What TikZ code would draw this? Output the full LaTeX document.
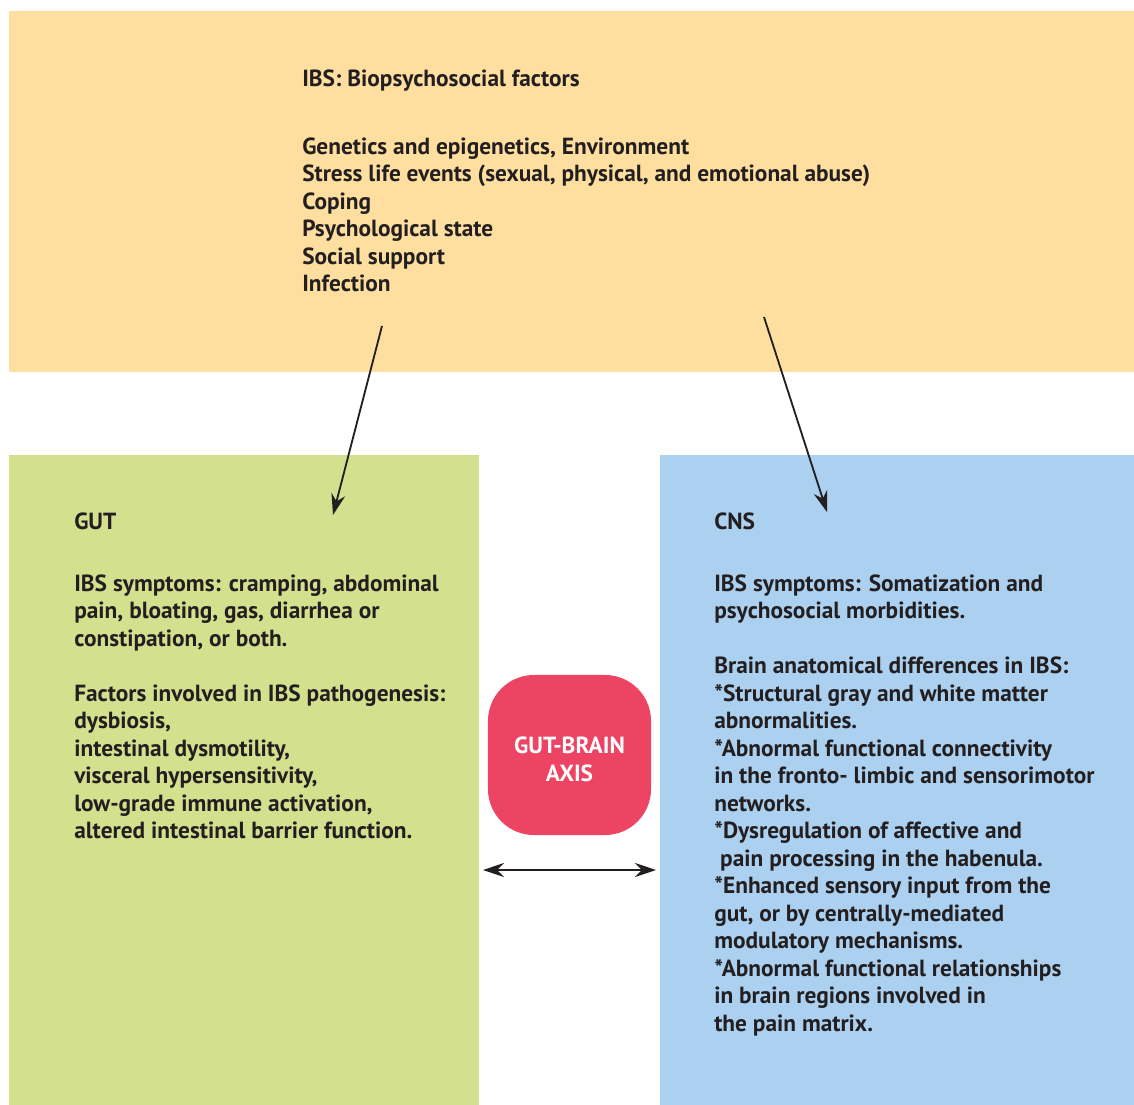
\documentclass[tikz,border=0pt]{standalone}
\usepackage{fontspec}
\setmainfont{PT Sans}
\usetikzlibrary{arrows.meta}

\definecolor{factorbg}{HTML}{FEDF9F}
\definecolor{gutbg}{HTML}{D3E08D}
\definecolor{cnsbg}{HTML}{ABD0F0}
\definecolor{axisbg}{HTML}{EE4464}
\definecolor{ink}{HTML}{231F20}

\tikzset{
  panel/.style={fill=#1, draw=none, inner sep=0, anchor=north west},
  blocktext/.style={anchor=north west, align=left, inner sep=0, text=ink,
    font=\bfseries\fontsize{16.6}{19.56}\selectfont},
  link/.style={draw=ink, line width=1.3pt,
    -{Stealth[length=15pt, width=10pt, inset=5pt]}},
}

\begin{document}
\begin{tikzpicture}[x=0.025cm, y=-0.025cm]

  \useasboundingbox (0,0) rectangle (1134,1105);

  % --- fattori ---
  \node[panel=factorbg, minimum width=28.125cm, minimum height=9.025cm] (factors) at (9,11) {};
  \node[blocktext] (factorsTitle) at (302,66.5) {\strut IBS: Biopsychosocial factors};
  \node[blocktext] (factorsList) at (302,134.5) {\strut Genetics and epigenetics, Environment\\
    Stress life events (sexual, physical, and emotional abuse)\\
    Coping\\
    Psychological state\\
    Social support\\
    Infection};

  % --- gut ---
  \node[panel=gutbg, minimum width=11.75cm, minimum height=16.25cm] (gut) at (9,455) {};
  \node[blocktext] (gutTitle) at (74,509.5) {\strut GUT};
  \node[blocktext] (gutText) at (74,571.5) {\strut IBS symptoms: cramping, abdominal\\
    pain, bloating, gas, diarrhea or\\
    constipation, or both.\\[19.56pt]
    Factors involved in IBS pathogenesis:\\
    dysbiosis,\\
    intestinal dysmotility,\\
    visceral hypersensitivity,\\
    low-grade immune activation,\\
    altered intestinal barrier function.};

  % --- cns ---
  \node[panel=cnsbg, minimum width=11.85cm, minimum height=16.25cm] (cns) at (660,455) {};
  \node[blocktext] (cnsTitle) at (714,509.5) {\strut CNS};
  \node[blocktext] (cnsText) at (714,571.5) {\strut IBS symptoms: Somatization and\\
    psychosocial morbidities.\\[19.56pt]
    Brain anatomical differences in IBS:\\
    *Structural gray and white matter\\
    abnormalities.\\
    *Abnormal functional connectivity\\
    in the fronto- limbic and sensorimotor\\
    networks.\\
    *Dysregulation of affective and\\
    \ pain processing in the habenula.\\
    *Enhanced sensory input from the\\
    gut, or by centrally-mediated\\
    modulatory mechanisms.\\
    *Abnormal functional relationships\\
    in brain regions involved in\\
    the pain matrix.};

  % --- asse ---
  \node[fill=axisbg, rounded corners=1.15cm, minimum width=4.075cm, minimum height=4cm,
    inner sep=0] (axis) at (569.5,755) {};
  \node[align=center, text=white, inner sep=0,
    font=\bfseries\fontsize{16.6}{19.56}\selectfont] (axisText) at (569.5,759.5) {GUT-BRAIN\\AXIS};

  % --- frecce ---
  \coordinate (factorsL) at (382,326);
  \coordinate (factorsR) at (764,317);
  \coordinate (gutIn) at (333,515);
  \coordinate (cnsIn) at (827,512);
  \coordinate (gutSide) at (483,870);
  \coordinate (cnsSide) at (656,870);

  \draw[link] (factorsL) -- (gutIn);
  \draw[link] (factorsR) -- (cnsIn);
  \draw[link, {Stealth[length=15pt, width=10pt, inset=5pt]}-{Stealth[length=15pt, width=10pt, inset=5pt]}]
    (gutSide) -- (cnsSide);

\end{tikzpicture}
\end{document}
